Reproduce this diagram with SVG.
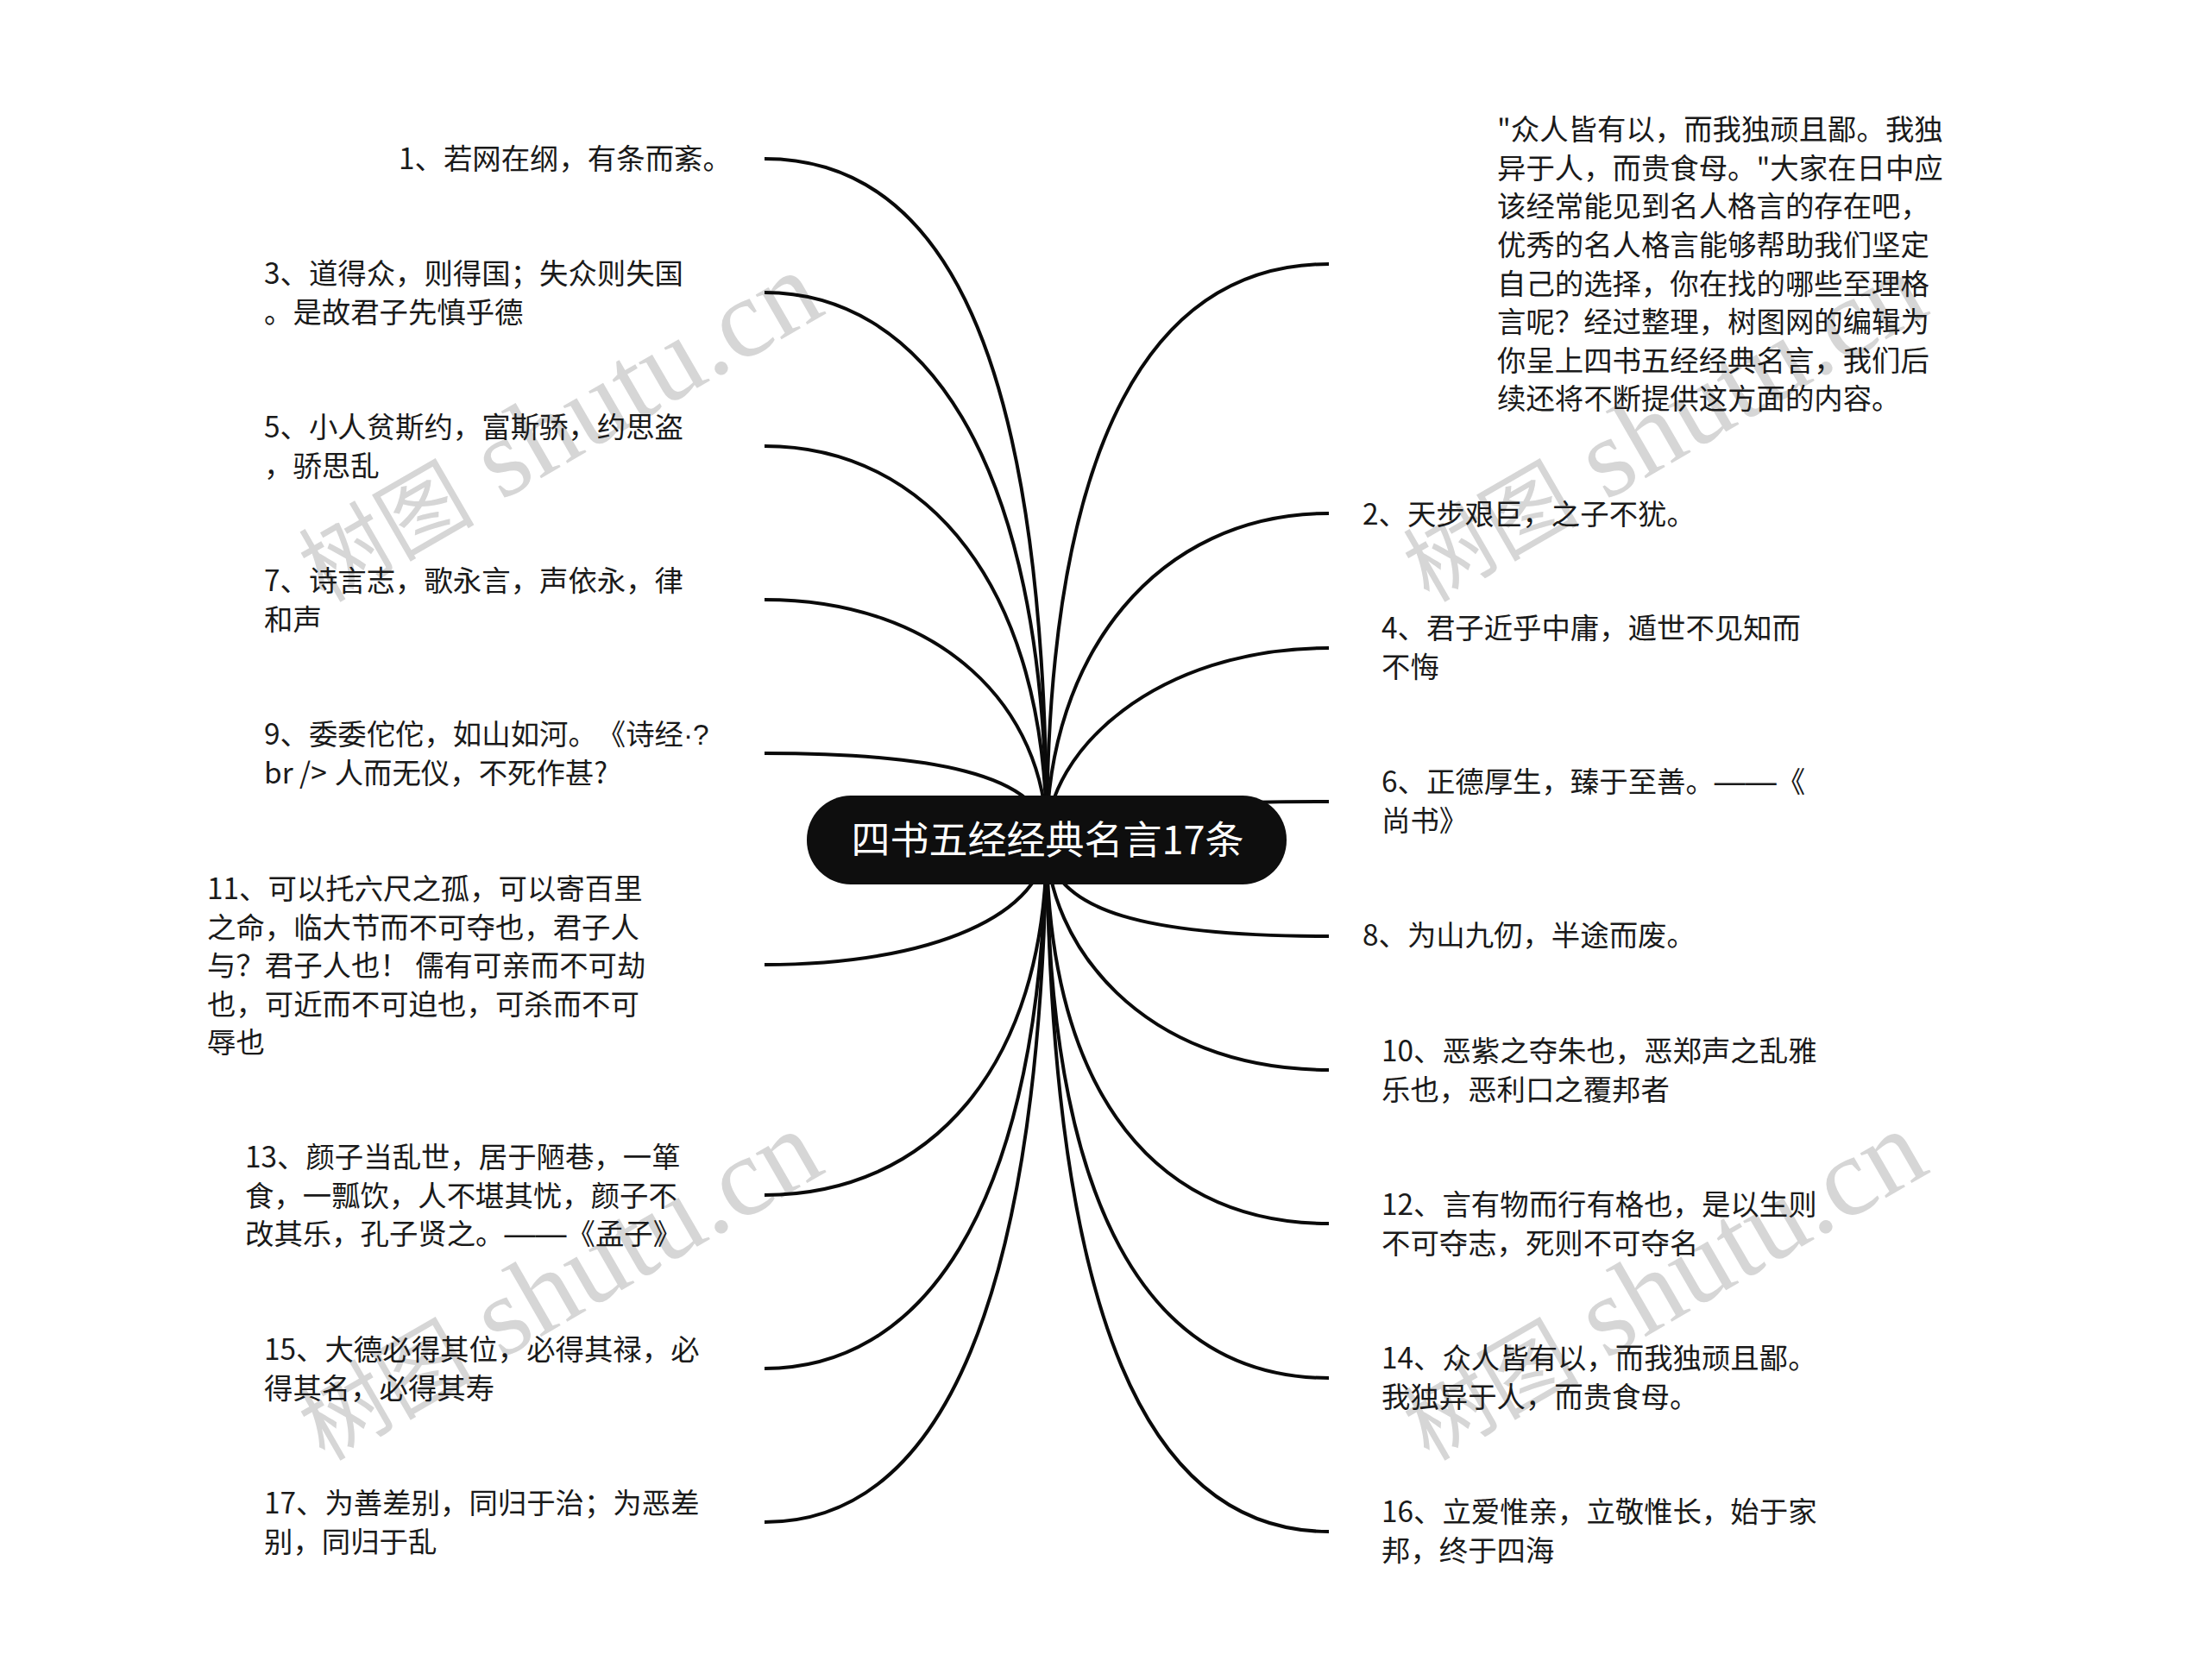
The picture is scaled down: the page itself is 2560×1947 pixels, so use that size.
<svg xmlns="http://www.w3.org/2000/svg" width="2560" height="1947" viewBox="0 0 2560 1947">
<style>
.c{fill:none;stroke:#0a0a0a;stroke-width:4;stroke-linecap:butt}
.t{font-family:"Noto Sans CJK SC","Noto Sans",sans-serif;font-size:33.4px;fill:#1a1a1a;text-spacing-trim:space-all}
.d{font-family:"Liberation Sans",sans-serif;font-size:36px}
.p{font-family:"Liberation Sans",sans-serif}
.r{font-family:"Noto Sans CJK SC","Noto Sans",sans-serif;font-size:45px;fill:#fff;text-anchor:middle}
.w{font-family:"Liberation Serif","Noto Sans CJK SC",serif;font-size:130px;fill:#d6d6d6}
.wc{font-family:"Noto Sans CJK SC",serif;font-size:102px}
</style>
<rect width="2560" height="1947" fill="#fff"/>
<g id="watermarks">
<text class="w" transform="translate(376,699) rotate(-30)"><tspan class="wc">树图</tspan> shutu.cn</text>
<text class="w" transform="translate(1656,699) rotate(-30)"><tspan class="wc">树图</tspan> shutu.cn</text>
<text class="w" transform="translate(376,1694) rotate(-30)"><tspan class="wc">树图</tspan> shutu.cn</text>
<text class="w" transform="translate(1656,1694) rotate(-30)"><tspan class="wc">树图</tspan> shutu.cn</text>
</g>
<g id="connectors">
<path class="c" d="M886,184C1090,184 1213,400 1213,973"/>
<path class="c" d="M886,339C1060,339 1213,513 1213,973"/>
<path class="c" d="M886,517C1075,517 1213,680 1213,973"/>
<path class="c" d="M886,695C1090,695 1213,820 1213,973"/>
<path class="c" d="M886,873C1070,873 1213,895 1213,973"/>
<path class="c" d="M886,1118C1080,1118 1213,1060 1213,973"/>
<path class="c" d="M886,1385C1075,1385 1213,1240 1213,973"/>
<path class="c" d="M886,1586C1060,1586 1205,1420 1213,973"/>
<path class="c" d="M886,1764C1095,1764 1205,1500 1213,973"/>
<path class="c" d="M1540,306C1340,306 1213,500 1213,973"/>
<path class="c" d="M1540,595C1340,595 1213,760 1213,973"/>
<path class="c" d="M1540,751C1340,751 1213,870 1213,973"/>
<path class="c" d="M1540,929C1340,929 1213,940 1213,973"/>
<path class="c" d="M1540,1085C1340,1085 1213,1060 1213,973"/>
<path class="c" d="M1540,1240C1320,1240 1213,1090 1213,973"/>
<path class="c" d="M1540,1418C1320,1418 1213,1240 1213,973"/>
<path class="c" d="M1540,1597C1330,1597 1213,1400 1213,973"/>
<path class="c" d="M1540,1775C1330,1775 1218,1530 1213,973"/>
</g>
<g id="root"><rect x="935" y="922" width="556" height="103" rx="51" fill="#0e0e0e"/><text class="r" x="1214" y="990">四书五经经典名言17条</text></g>
<g id="n1"><text class="t" x="462" y="196">1、若网在纲，有条而紊。</text></g>
<g id="n3"><text class="t" x="306" y="329">3、道得众，则得国；失众则失国</text><text class="t" x="306" y="373.6">。是故君子先慎乎德</text></g>
<g id="n5"><text class="t" x="306" y="507">5、小人贫斯约，富斯骄，约思盗</text><text class="t" x="306" y="551.6">，骄思乱</text></g>
<g id="n7"><text class="t" x="306" y="685">7、诗言志，歌永言，声依永，律</text><text class="t" x="306" y="729.6">和声</text></g>
<g id="n9"><text class="t" x="306" y="863">9、委委佗佗，如山如河。《诗经<tspan class="p">·?</tspan></text><text class="t" x="306" y="908">br /&gt;<tspan dx="9">人而无仪，不死作甚?</tspan></text></g>
<g id="n11"><text class="t" x="240" y="1042">11、可以托六尺之孤，可以寄百里</text><text class="t" x="240" y="1087">之命，临大节而不可夺也，君子人</text><text class="t" x="240" y="1131">与？君子人也！ 儒有可亲而不可劫</text><text class="t" x="240" y="1176">也，可近而不可迫也，可杀而不可</text><text class="t" x="240" y="1220">辱也</text></g>
<g id="n13"><text class="t" x="284" y="1353">13、颜子当乱世，居于陋巷，一箪</text><text class="t" x="284" y="1397.6">食，一瓢饮，人不堪其忧，颜子不</text><text class="t" x="284" y="1442">改其乐，孔子贤之。<tspan class="d">——</tspan>《孟子》</text></g>
<g id="n15"><text class="t" x="306" y="1576.4">15、大德必得其位，必得其禄，必</text><text class="t" x="306" y="1621">得其名，必得其寿</text></g>
<g id="n17"><text class="t" x="306" y="1754.4">17、为善差别，同归于治；为恶差</text><text class="t" x="306" y="1799">别，同归于乱</text></g>
<g id="intro"><text class="t" x="1735" y="162">"众人皆有以，而我独顽且鄙。我独</text><text class="t" x="1735" y="206.6">异于人，而贵食母。"大家在日中应</text><text class="t" x="1735" y="251">该经常能见到名人格言的存在吧，</text><text class="t" x="1735" y="296">优秀的名人格言能够帮助我们坚定</text><text class="t" x="1735" y="340.5">自己的选择，你在找的哪些至理格</text><text class="t" x="1735" y="385">言呢？经过整理，树图网的编辑为</text><text class="t" x="1735" y="429.7">你呈上四书五经经典名言，我们后</text><text class="t" x="1735" y="474">续还将不断提供这方面的内容。</text></g>
<g id="n2"><text class="t" x="1579" y="608">2、天步艰巨，之子不犹。</text></g>
<g id="n4"><text class="t" x="1601" y="740">4、君子近乎中庸，遁世不见知而</text><text class="t" x="1601" y="784.6">不悔</text></g>
<g id="n6"><text class="t" x="1601" y="918">6、正德厚生，臻于至善。<tspan class="d">——</tspan>《</text><text class="t" x="1601" y="962.6">尚书》</text></g>
<g id="n8"><text class="t" x="1579" y="1096">8、为山九仞，半途而废。</text></g>
<g id="n10"><text class="t" x="1601" y="1230">10、恶紫之夺朱也，恶郑声之乱雅</text><text class="t" x="1601" y="1274.6">乐也，恶利口之覆邦者</text></g>
<g id="n12"><text class="t" x="1601" y="1408">12、言有物而行有格也，是以生则</text><text class="t" x="1601" y="1452.6">不可夺志，死则不可夺名</text></g>
<g id="n14"><text class="t" x="1601" y="1586">14、众人皆有以，而我独顽且鄙。</text><text class="t" x="1601" y="1631">我独异于人，而贵食母。</text></g>
<g id="n16"><text class="t" x="1601" y="1764">16、立爱惟亲，立敬惟长，始于家</text><text class="t" x="1601" y="1808.6">邦，终于四海</text></g>
</svg>
